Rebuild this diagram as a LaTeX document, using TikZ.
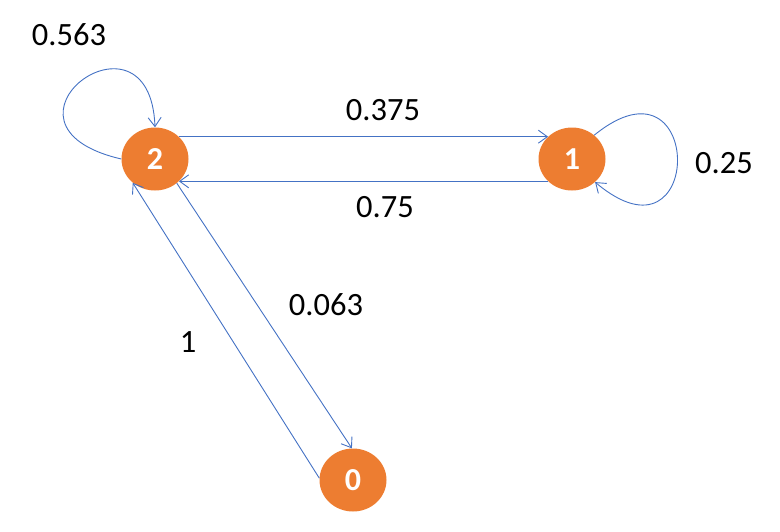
\documentclass[tikz,border=0pt]{standalone}
\usepackage{fontspec}
\setmainfont{Carlito}
\usetikzlibrary{arrows.meta,shapes.geometric}
\definecolor{nodeorange}{RGB}{237,125,49}
\definecolor{edgeblue}{RGB}{68,114,196}
\begin{document}
\begin{tikzpicture}[x=1pt,y=-1pt,
  state/.style={ellipse,fill=nodeorange,draw=none,minimum width=67pt,minimum height=63pt,inner sep=0pt,text=white,font=\fontsize{32}{38}\selectfont\bfseries},
  link/.style={draw=edgeblue,line width=0.9pt,-{Straight Barb[length=9pt,width=13pt]}},
  lbl/.style={font=\fontsize{32.5}{39}\selectfont,text=black,inner sep=0pt}]
\useasboundingbox (0,0) rectangle (780,531);
\node[state] (n2) at (155,159) {2};
\node[state] (n1) at (572,159) {1};
\node[state] (n0) at (353,480) {0};
% edges
\draw[link] (n2.43) -- (n1.137);
\draw[link] (n1.223) -- (n2.317);
\draw[link] (n2.312) -- (n0.92);
\draw[link] (n0.177) -- (n2.227);
\draw[link] (n2.180) .. controls (-25,125) and (150,-5) .. (n2.90);
\draw[link] (n1.47) .. controls (705,45) and (705,275) .. (n1.-45);
% labels
\node[lbl] (l563) at (69,35) {0.563};
\node[lbl] (l375) at (383,110) {0.375};
\node[lbl] (l75) at (385,207) {0.75};
\node[lbl] (l25) at (724,163) {0.25};
\node[lbl] (l063) at (326,305) {0.063};
\node[lbl] (l1) at (188,342) {1};
\end{tikzpicture}
\end{document}
